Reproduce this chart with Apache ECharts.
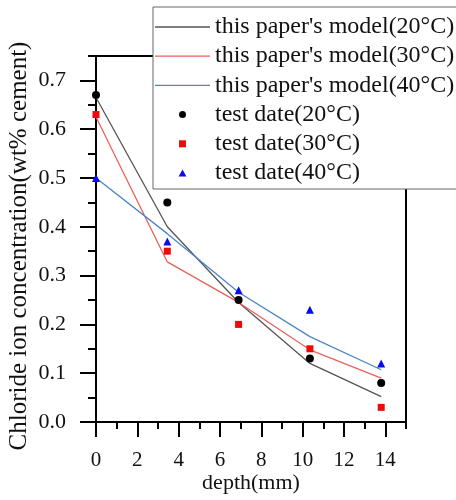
<!DOCTYPE html>
<html>
<head>
<meta charset="utf-8">
<script src="https://cdn.jsdelivr.net/npm/echarts@6/dist/echarts.min.js"></script>
<style>
  html, body { margin: 0; padding: 0; background: #fff; }
  #chart { width: 456px; height: 500px; }
</style>
</head>
<body>
<div id="chart"></div>
<script>
// depth positions (mm)
var depths = [0, 3.45, 6.9, 10.35, 13.8];

// model curves
var model20 = [0.665, 0.40, 0.245, 0.12, 0.052];
var model30 = [0.625, 0.328, 0.245, 0.148, 0.09];
var model40 = [0.50, 0.386, 0.266, 0.175, 0.107];

// test data
var test20 = [0.67, 0.45, 0.25, 0.13, 0.08];
var test30 = [0.63, 0.35, 0.20, 0.15, 0.03];
var test40 = [0.50, 0.37, 0.27, 0.23, 0.12];

var xMajor = [0, 2, 4, 6, 8, 10, 12, 14];
var yMajor = [0, 0.1, 0.2, 0.3, 0.4, 0.5, 0.6, 0.7];

var names = [
  "this paper's model(20°C)",
  "this paper's model(30°C)",
  "this paper's model(40°C)",
  "test date(20°C)",
  "test date(30°C)",
  "test date(40°C)"
];

function pairs(xs, ys) {
  return xs.map(function (x, i) { return [x, ys[i]]; });
}

var font = 'Liberation Serif';
var lineIcon = 'path://M0,0L55,0L55,1.3L0,1.3Z';
var chart = echarts.init(document.getElementById('chart'));

chart.setOption({
  animation: false,
  textStyle: { fontFamily: font },
  grid: {
    left: 96, right: 50, top: 56, bottom: 78,
    outerBoundsMode: 'none',
    containLabel: false,
    show: true, borderColor: '#000', borderWidth: 2
  },
  legend: {
    left: 153, top: 7,
    orient: 'vertical',
    backgroundColor: '#fff',
    borderColor: '#666',
    borderWidth: 1,
    borderRadius: 0,
    padding: [8, 6, 4, 2],
    itemWidth: 55,
    itemHeight: 7,
    itemGap: 5.2,
    symbolKeepAspect: true,
    textStyle: { fontFamily: font, fontSize: 24, color: '#111' },
    data: [
      { name: names[0], icon: lineIcon },
      { name: names[1], icon: lineIcon },
      { name: names[2], icon: lineIcon },
      { name: names[3], icon: 'circle' },
      { name: names[4], icon: 'path://M0,0L1,0L1,1L0,1Z' },
      { name: names[5], icon: 'path://M0.5,0L1,0.9L0,0.9Z' }
    ]
  },
  xAxis: [
    {
      type: 'value', min: 0, max: 15, interval: 1,
      name: 'depth(mm)', nameLocation: 'middle', nameGap: 50, nameMoveOverlap: false,
      nameTextStyle: { fontFamily: font, fontSize: 22, color: '#111' },
      axisLine: { lineStyle: { color: '#000', width: 2 } },
      axisTick: { inside: false, length: 7, lineStyle: { color: '#000', width: 2 } },
      axisLabel: {
        margin: 28, fontFamily: font, fontSize: 21, color: '#111',
        formatter: function (v) { return (v % 2 === 0 && v <= 14) ? String(v) : ''; }
      },
      splitLine: { show: false }
    },
    {
      type: 'value', min: 0, max: 15, position: 'bottom',
      axisLine: { show: false },
      axisTick: { inside: false, length: 15, customValues: xMajor, lineStyle: { color: '#000', width: 2 } },
      axisLabel: { show: false },
      splitLine: { show: false }
    }
  ],
  yAxis: [
    {
      type: 'value', min: 0, max: 0.75, interval: 0.05,
      name: 'Chloride ion concentration(wt% cement)', nameLocation: 'middle', nameGap: 64, nameMoveOverlap: false,
      nameTextStyle: { fontFamily: font, fontSize: 25, color: '#111', padding: [0, 14, 0, 0] },
      axisLine: { lineStyle: { color: '#000', width: 2 } },
      axisTick: { inside: false, length: 8, lineStyle: { color: '#000', width: 2 } },
      axisLabel: {
        margin: 30, fontFamily: font, fontSize: 22, color: '#111',
        formatter: function (v) {
          var k = Math.round(v * 100);
          return (k % 10 === 0 && k <= 70) ? (k / 100).toFixed(1) : '';
        }
      },
      splitLine: { show: false }
    },
    {
      type: 'value', min: 0, max: 0.75, position: 'left',
      axisLine: { show: false },
      axisTick: { inside: false, length: 16, customValues: yMajor, lineStyle: { color: '#000', width: 2 } },
      axisLabel: { show: false },
      splitLine: { show: false }
    }
  ],
  series: [
    {
      name: names[0], type: 'line', symbol: 'none', z: 3,
      lineStyle: { color: '#555', width: 1.3 }, itemStyle: { color: '#555' },
      data: pairs(depths, model20)
    },
    {
      name: names[1], type: 'line', symbol: 'none', z: 3,
      lineStyle: { color: '#e8625a', width: 1.3 }, itemStyle: { color: '#e8625a' },
      data: pairs(depths, model30)
    },
    {
      name: names[2], type: 'line', symbol: 'none', z: 3,
      lineStyle: { color: '#4a86c8', width: 1.3 }, itemStyle: { color: '#4a86c8' },
      data: pairs(depths, model40)
    },
    {
      name: names[3], type: 'scatter', symbol: 'circle', symbolSize: 8, z: 4,
      itemStyle: { color: '#000', opacity: 1 },
      data: pairs(depths, test20)
    },
    {
      name: names[4], type: 'scatter', symbol: 'rect', symbolSize: 7, z: 4,
      itemStyle: { color: '#ee0a0a', opacity: 1 },
      data: pairs(depths, test30)
    },
    {
      name: names[5], type: 'scatter', symbol: 'triangle', symbolSize: 8, z: 4,
      itemStyle: { color: '#0a0aee', opacity: 1 },
      data: pairs(depths, test40)
    }
  ]
});
</script>
</body>
</html>
